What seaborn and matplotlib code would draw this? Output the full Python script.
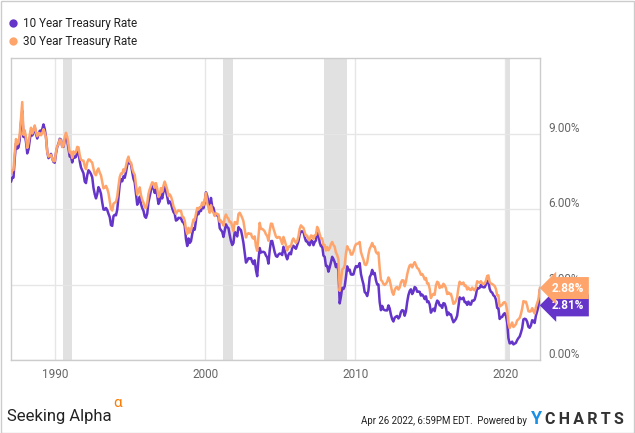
import numpy as np
import pandas as pd
import matplotlib
matplotlib.use("Agg")
import matplotlib.pyplot as plt
import matplotlib.transforms as mtransforms
from matplotlib.lines import Line2D
from matplotlib.patches import Rectangle
import seaborn as sns

# ---------------- data (monthly, Jan 1987 .. Mar 2022, plus Apr 26 2022) ----------------
start_year = 1987
ten_year = [
    7.08, 7.25, 7.25, 8.02, 8.61, 8.40, 8.45, 8.76, 9.42, 9.90, 8.86, 8.99,   # 1987
    8.67, 8.21, 8.37, 8.72, 9.09, 8.92, 9.06, 9.26, 8.98, 8.80, 8.96, 9.11,   # 1988
    9.09, 9.17, 9.36, 9.18, 8.86, 8.28, 8.02, 8.11, 8.19, 8.01, 7.87, 7.84,   # 1989
    8.21, 8.47, 8.59, 8.79, 8.76, 8.48, 8.47, 8.75, 8.89, 8.72, 8.39, 8.08,   # 1990
    8.09, 7.85, 8.11, 8.04, 8.07, 8.28, 8.27, 7.90, 7.65, 7.53, 7.42, 7.09,   # 1991
    7.03, 7.34, 7.54, 7.48, 7.39, 7.26, 6.84, 6.59, 6.42, 6.59, 6.87, 6.77,   # 1992
    6.60, 6.26, 5.98, 5.97, 6.04, 5.96, 5.81, 5.68, 5.36, 5.33, 5.72, 5.77,   # 1993
    5.75, 5.97, 6.48, 6.97, 7.18, 7.10, 7.30, 7.24, 7.46, 7.74, 7.96, 7.81,   # 1994
    7.78, 7.47, 7.20, 7.06, 6.63, 6.17, 6.28, 6.49, 6.20, 6.04, 5.93, 5.71,   # 1995
    5.65, 5.81, 6.27, 6.51, 6.74, 6.91, 6.87, 6.64, 6.83, 6.53, 6.20, 6.30,   # 1996
    6.58, 6.42, 6.69, 6.89, 6.71, 6.49, 6.22, 6.30, 6.21, 6.03, 5.88, 5.81,   # 1997
    5.54, 5.57, 5.65, 5.64, 5.65, 5.50, 5.46, 5.34, 4.81, 4.53, 4.83, 4.65,   # 1998
    4.72, 5.00, 5.23, 5.18, 5.54, 5.90, 5.79, 5.94, 5.92, 6.11, 6.03, 6.28,   # 1999
    6.66, 6.52, 6.26, 5.99, 6.44, 6.10, 6.05, 5.83, 5.80, 5.74, 5.72, 5.24,   # 2000
    5.16, 5.10, 4.89, 5.14, 5.39, 5.28, 5.24, 4.97, 4.73, 4.57, 4.65, 5.09,   # 2001
    5.04, 4.91, 5.28, 5.21, 5.16, 4.93, 4.65, 4.26, 3.87, 3.94, 4.05, 4.03,   # 2002
    4.05, 3.90, 3.81, 3.96, 3.57, 3.33, 3.98, 4.45, 4.27, 4.29, 4.30, 4.27,   # 2003
    4.15, 4.08, 3.83, 4.35, 4.72, 4.73, 4.50, 4.28, 4.13, 4.10, 4.19, 4.23,   # 2004
    4.22, 4.17, 4.50, 4.34, 4.14, 4.00, 4.18, 4.26, 4.20, 4.46, 4.54, 4.47,   # 2005
    4.42, 4.57, 4.72, 4.99, 5.11, 5.11, 5.09, 4.88, 4.72, 4.73, 4.60, 4.56,   # 2006
    4.76, 4.72, 4.56, 4.69, 4.75, 5.10, 5.00, 4.67, 4.52, 4.53, 4.15, 4.10,   # 2007
    3.74, 3.74, 3.51, 3.68, 3.88, 4.10, 4.01, 3.89, 3.69, 3.81, 3.53, 2.25,   # 2008
    2.52, 2.87, 2.82, 2.93, 3.29, 3.72, 3.56, 3.59, 3.40, 3.39, 3.40, 3.59,   # 2009
    3.73, 3.69, 3.73, 3.85, 3.42, 3.20, 3.01, 2.70, 2.65, 2.54, 2.76, 3.29,   # 2010
    3.39, 3.58, 3.41, 3.46, 3.17, 3.00, 3.00, 2.30, 1.98, 2.15, 2.01, 1.98,   # 2011
    1.97, 1.97, 2.17, 2.05, 1.80, 1.62, 1.53, 1.68, 1.72, 1.75, 1.65, 1.72,   # 2012
    1.91, 1.98, 1.96, 1.76, 1.93, 2.30, 2.58, 2.74, 2.81, 2.62, 2.72, 2.90,   # 2013
    2.86, 2.71, 2.72, 2.71, 2.56, 2.60, 2.54, 2.42, 2.53, 2.30, 2.33, 2.21,   # 2014
    1.88, 1.98, 2.04, 1.94, 2.20, 2.36, 2.32, 2.17, 2.17, 2.07, 2.26, 2.24,   # 2015
    2.09, 1.78, 1.89, 1.81, 1.81, 1.64, 1.50, 1.56, 1.63, 1.76, 2.14, 2.49,   # 2016
    2.43, 2.42, 2.48, 2.30, 2.30, 2.19, 2.32, 2.21, 2.20, 2.36, 2.35, 2.40,   # 2017
    2.58, 2.86, 2.84, 2.87, 2.98, 2.91, 2.89, 2.89, 3.00, 3.15, 3.12, 2.83,   # 2018
    2.71, 2.68, 2.57, 2.53, 2.40, 2.07, 2.06, 1.63, 1.70, 1.71, 1.81, 1.86,   # 2019
    1.76, 1.50, 0.87, 0.66, 0.67, 0.73, 0.62, 0.65, 0.68, 0.79, 0.87, 0.93,   # 2020
    1.08, 1.26, 1.61, 1.64, 1.62, 1.52, 1.32, 1.28, 1.37, 1.58, 1.56, 1.47,   # 2021
    1.76, 1.93, 2.13, 2.81,                                                   # 2022
]
thirty_year = [
    7.39, 7.54, 7.55, 8.25, 8.78, 8.57, 8.64, 8.97, 9.59, 10.25, 8.95, 9.12,  # 1987
    8.83, 8.43, 8.63, 8.95, 9.23, 9.00, 9.14, 9.32, 9.06, 8.89, 9.02, 9.01,   # 1988
    8.93, 9.01, 9.17, 9.03, 8.83, 8.27, 8.08, 8.12, 8.15, 8.00, 7.90, 7.90,   # 1989
    8.26, 8.50, 8.56, 8.76, 8.73, 8.46, 8.50, 8.86, 9.03, 8.86, 8.54, 8.24,   # 1990
    8.27, 8.03, 8.29, 8.21, 8.27, 8.47, 8.45, 8.14, 7.95, 7.93, 7.92, 7.70,   # 1991
    7.58, 7.85, 7.97, 7.96, 7.89, 7.84, 7.60, 7.39, 7.34, 7.53, 7.61, 7.44,   # 1992
    7.34, 7.09, 6.82, 6.85, 6.92, 6.81, 6.63, 6.32, 6.00, 5.94, 6.21, 6.25,   # 1993
    6.29, 6.49, 6.91, 7.27, 7.41, 7.40, 7.58, 7.49, 7.71, 7.94, 8.08, 7.87,   # 1994
    7.85, 7.61, 7.45, 7.36, 6.95, 6.57, 6.72, 6.86, 6.55, 6.37, 6.26, 6.06,   # 1995
    6.05, 6.24, 6.60, 6.79, 6.93, 7.06, 7.03, 6.84, 7.03, 6.81, 6.48, 6.55,   # 1996
    6.83, 6.69, 6.93, 7.09, 6.94, 6.77, 6.51, 6.58, 6.50, 6.33, 6.11, 5.99,   # 1997
    5.81, 5.89, 5.95, 5.92, 5.93, 5.70, 5.68, 5.54, 5.20, 5.01, 5.25, 5.06,   # 1998
    5.16, 5.37, 5.58, 5.55, 5.81, 6.04, 5.98, 6.07, 6.07, 6.26, 6.15, 6.35,   # 1999
    6.63, 6.23, 6.05, 5.85, 6.15, 5.93, 5.85, 5.72, 5.83, 5.80, 5.78, 5.49,   # 2000
    5.54, 5.45, 5.34, 5.65, 5.78, 5.67, 5.61, 5.48, 5.48, 5.32, 5.12, 5.48,   # 2001
    5.45, 5.40, 5.80, 5.85, 5.76, 5.65, 5.51, 5.19, 4.87, 5.00, 5.04, 5.01,   # 2002
    5.02, 4.87, 4.82, 4.91, 4.52, 4.34, 4.92, 5.45, 5.21, 5.21, 5.17, 5.11,   # 2003
    4.99, 4.93, 4.74, 5.14, 5.42, 5.41, 5.22, 5.06, 4.90, 4.85, 4.89, 4.88,   # 2004
    4.77, 4.61, 4.89, 4.75, 4.56, 4.35, 4.48, 4.53, 4.51, 4.74, 4.83, 4.73,   # 2005
    4.65, 4.73, 4.91, 5.22, 5.35, 5.29, 5.25, 5.08, 4.93, 4.94, 4.78, 4.78,   # 2006
    4.95, 4.93, 4.81, 4.95, 4.98, 5.29, 5.19, 5.00, 4.84, 4.83, 4.56, 4.57,   # 2007
    4.35, 4.49, 4.36, 4.44, 4.60, 4.69, 4.57, 4.50, 4.27, 4.17, 4.00, 2.75,   # 2008
    3.13, 3.59, 3.64, 3.76, 4.23, 4.52, 4.41, 4.37, 4.19, 4.19, 4.31, 4.49,   # 2009
    4.60, 4.62, 4.64, 4.69, 4.29, 4.13, 3.99, 3.80, 3.77, 3.87, 4.19, 4.42,   # 2010
    4.52, 4.65, 4.51, 4.50, 4.29, 4.23, 4.27, 3.65, 3.18, 3.13, 3.02, 2.98,   # 2011
    3.03, 3.11, 3.28, 3.18, 2.93, 2.70, 2.59, 2.77, 2.88, 2.90, 2.80, 2.88,   # 2012
    3.08, 3.17, 3.16, 2.93, 3.11, 3.40, 3.61, 3.76, 3.79, 3.68, 3.80, 3.89,   # 2013
    3.77, 3.66, 3.62, 3.52, 3.39, 3.42, 3.33, 3.20, 3.26, 3.04, 3.04, 2.83,   # 2014
    2.46, 2.57, 2.63, 2.59, 2.96, 3.11, 3.07, 2.86, 2.95, 2.89, 3.03, 2.97,   # 2015
    2.86, 2.62, 2.68, 2.62, 2.63, 2.45, 2.23, 2.26, 2.35, 2.50, 2.86, 3.11,   # 2016
    3.02, 3.03, 3.08, 2.94, 2.96, 2.80, 2.88, 2.80, 2.78, 2.88, 2.80, 2.77,   # 2017
    2.88, 3.13, 3.09, 3.07, 3.13, 3.05, 3.01, 3.04, 3.15, 3.34, 3.36, 3.10,   # 2018
    3.04, 3.02, 2.98, 2.94, 2.82, 2.57, 2.57, 2.12, 2.16, 2.19, 2.28, 2.30,   # 2019
    2.22, 1.97, 1.46, 1.27, 1.38, 1.49, 1.31, 1.36, 1.42, 1.57, 1.62, 1.67,   # 2020
    1.82, 2.04, 2.34, 2.30, 2.32, 2.16, 1.94, 1.92, 1.94, 2.06, 1.94, 1.85,   # 2021
    2.10, 2.25, 2.41, 2.88,                                                   # 2022
]
series_names = ["10 Year Treasury Rate", "30 Year Treasury Rate"]
recessions = [(1990.54, 1991.13), (2001.15, 2001.84), (2007.92, 2009.42), (2020.04, 2020.29)]
x_ticks = [1990, 2000, 2010, 2020]
y_ticks = [0, 3, 6, 9]
last_values = [2.81, 2.88]

PURPLE = "#6535C9"
ORANGE = "#FFA56C"

# dates as decimal years (mid-month; last point = Apr 26 2022)
n = len(ten_year)
dates = [start_year + (i + 0.5) / 12 for i in range(n - 1)] + [2022 + (115.0 / 365.0)]
df = pd.concat([
    pd.DataFrame({"date": dates, "rate": ten_year, "series": series_names[0]}),
    pd.DataFrame({"date": dates, "rate": thirty_year, "series": series_names[1]}),
], ignore_index=True)

sns.set_theme(style="white")
plt.rcParams["font.family"] = ["Roboto", "DejaVu Sans"]

W, H = 635, 433
fig = plt.figure(figsize=(W / 100, H / 100), dpi=100)
ax = fig.add_axes([11 / W, 1 - 360 / H, 529 / W, 302 / H])

for a, b in recessions:
    ax.axvspan(a, b, color="#e1e1e1", lw=0, zorder=0.5)

sns.lineplot(data=df, x="date", y="rate", hue="series", hue_order=series_names,
             palette=[PURPLE, ORANGE], linewidth=1.8, legend=False, ax=ax, zorder=3)

ax.set_xlim(dates[0], dates[-1])
ax.set_ylim(0, 12.0)
ax.set_xlabel("")
ax.set_ylabel("")

ax.set_xticks(x_ticks)
ax.set_xticklabels([str(t) for t in x_ticks])
ax.yaxis.tick_right()
ax.set_yticks(y_ticks)
ax.set_yticklabels([f"{v:.2f}%" for v in y_ticks])
ax.tick_params(axis="both", length=0, labelsize=8.5, labelcolor="#666666")
ax.tick_params(axis="x", pad=6)
ax.tick_params(axis="y", pad=6)
off = mtransforms.ScaledTranslation(0, 5 / 72, fig.dpi_scale_trans)
for lab in ax.get_yticklabels():
    lab.set_transform(lab.get_transform() + off)

ax.grid(True, color="#e6e6e6", linewidth=1)
ax.set_axisbelow(True)
for sp in ax.spines.values():
    sp.set_color("#cccccc")
    sp.set_linewidth(1)

# end-value badges
btr = mtransforms.blended_transform_factory(ax.transAxes, ax.transData)
badge_y = [2.17, 2.86]
for val, by, col in zip(last_values, badge_y, [PURPLE, ORANGE]):
    ax.text(1.0 + 12 / 529, by, f"{val:.2f}%", transform=btr, ha="left", va="center",
            fontsize=8.5, fontweight="bold", color="white", zorder=10, clip_on=False,
            bbox=dict(boxstyle="larrow,pad=0.38", fc=col, ec="none"))

# legend
handles = [Line2D([], [], marker="o", linestyle="none", markersize=6, color=c,
                  markeredgewidth=0) for c in [PURPLE, ORANGE]]
fig.legend(handles, series_names, loc="upper left", bbox_to_anchor=(8 / W, 1 - 17 / H),
           frameon=False, fontsize=8.5, handlelength=0.8, handletextpad=0.45,
           labelspacing=0.42, borderaxespad=0, borderpad=0,
           labelcolor="#222222")

# footer
fig.text(7 / W, 1 - 421 / H, "Seeking Alpha", fontsize=12, color="#222222",
         ha="left", va="baseline")
fig.text(113 / W, 1 - 403 / H, "\u03b1", fontsize=11, color="#FF7A00",
         ha="left", va="center")
fig.text(361 / W, 1 - 420.5 / H, "Apr 26 2022, 6:59PM EDT.  Powered by", fontsize=6.9,
         color="#222222", ha="left", va="center")
fig.text(531 / W, 1 - 419 / H, "Y", fontsize=13, fontweight="bold", color="#1A8FE6",
         ha="left", va="center")
fig.text(545 / W, 1 - 419 / H, "C\u2009H\u2009A\u2009R\u2009T\u2009S", fontsize=11.5,
         fontweight="bold", color="#333333", ha="left", va="center")

# outer border
fig.patches.append(Rectangle((0.5 / W, 0.5 / H), 1 - 1.5 / W, 1 - 1.5 / H,
                             transform=fig.transFigure, fill=False, ec="#cccccc", lw=1))

fig.savefig("out.png", dpi=100)
